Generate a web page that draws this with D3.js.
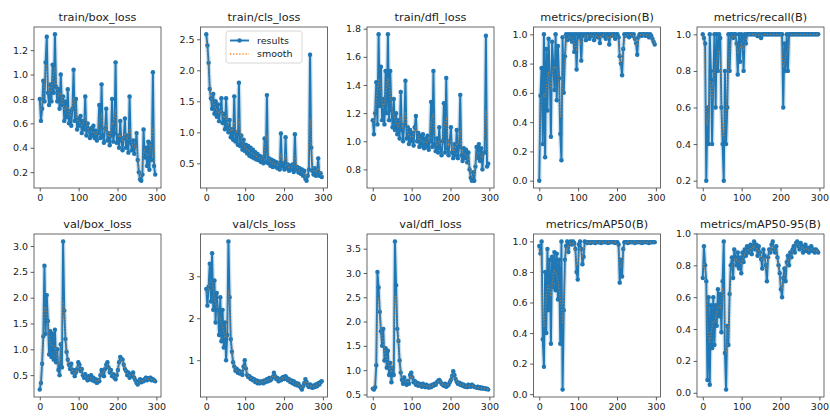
<!DOCTYPE html>
<html><head><meta charset="utf-8">
<script src="https://cdn.jsdelivr.net/npm/d3@7"></script>
<style>body{margin:0;background:#fff}svg{display:block}text{font-family:"DejaVu Sans",sans-serif;fill:#222}</style>
</head><body><svg id="c" width="830" height="417"></svg>
<script>
const titles = ["train/box_loss","train/cls_loss","train/dfl_loss","metrics/precision(B)","metrics/recall(B)",
                "val/box_loss","val/cls_loss","val/dfl_loss","metrics/mAP50(B)","metrics/mAP50-95(B)"];
const epochStep = 3; // one sample every 3 epochs, starting at epoch 0
const xTicks = [0,100,200,300];

const trainBoxLoss = [0.80,0.62,0.72,0.95,0.78,1.10,1.31,0.85,0.75,0.92,0.78,1.08,0.85,1.33,0.90,0.78,0.88,0.72,1.00,0.75,
 0.82,0.62,0.78,0.65,0.88,0.60,0.70,0.58,0.72,1.04,0.62,0.80,0.55,0.64,0.58,0.66,0.52,0.62,0.55,0.82,
 0.50,0.60,0.54,0.48,0.56,0.50,0.58,0.48,0.54,0.46,0.52,0.75,0.48,0.92,0.50,0.44,0.56,0.72,0.46,0.52,
 0.42,0.50,0.80,0.45,0.52,1.10,0.44,0.50,0.40,0.62,0.46,0.38,0.48,0.64,0.40,0.50,0.36,0.82,0.44,0.38,
 0.46,0.35,0.42,0.52,0.30,0.20,0.14,0.13,0.18,0.55,0.32,0.40,0.25,0.45,0.22,0.44,0.30,1.02,0.25,0.18];
const trainClsLoss = [2.58,2.40,2.12,1.70,1.55,1.38,1.62,1.30,1.50,1.25,1.45,1.18,1.35,1.55,1.15,1.30,1.05,1.55,1.10,1.00,
 1.20,0.92,1.05,0.88,1.58,0.85,1.00,0.80,1.80,0.78,0.95,0.72,0.88,0.70,0.80,0.66,0.78,0.62,0.75,0.60,
 0.72,0.58,0.68,0.56,0.65,0.55,0.62,0.52,0.60,0.50,0.90,0.52,1.60,0.50,0.58,0.46,0.56,0.44,0.54,0.45,
 0.52,0.42,0.50,0.40,0.98,0.45,0.50,0.40,0.92,0.42,0.48,0.38,0.46,0.40,0.48,0.36,0.97,0.40,0.44,0.35,
 0.42,0.33,0.40,0.30,0.38,0.25,0.22,0.30,0.40,2.25,0.75,0.38,0.32,0.42,0.30,0.36,0.58,0.30,0.34,0.28];
const trainDflLoss = [1.15,1.05,1.20,1.42,1.12,1.76,1.25,1.53,1.15,1.30,1.12,1.50,1.20,1.76,1.15,1.50,1.22,1.10,1.30,1.08,
 1.20,1.05,1.15,1.02,1.35,1.08,1.00,1.12,1.43,1.02,1.10,0.98,1.08,1.00,1.06,0.97,1.10,1.18,1.00,1.06,
 0.96,1.04,0.97,1.05,0.95,1.02,0.96,1.04,0.94,1.00,1.28,0.96,1.50,0.98,0.93,1.02,0.92,1.10,0.95,0.90,
 1.00,1.27,0.92,1.45,0.95,0.90,1.00,1.10,0.92,0.88,0.98,0.90,1.08,0.88,0.96,1.33,0.90,0.86,0.95,0.88,
 0.94,0.85,0.92,0.80,0.74,0.72,0.78,0.72,0.82,0.96,0.88,0.98,0.86,0.95,0.80,0.92,0.92,1.75,0.82,0.84];
const precision = [0.00,0.58,0.77,0.25,1.00,0.16,0.90,0.48,0.97,0.72,0.30,0.95,0.80,0.62,1.00,0.55,0.92,0.70,0.32,0.14,
 0.98,0.60,0.85,1.00,0.96,1.00,0.97,1.00,0.95,1.00,0.88,1.00,0.76,1.00,0.98,1.00,0.82,1.00,0.99,1.00,
 0.96,1.00,1.00,0.97,1.00,0.99,1.00,0.96,1.00,1.00,0.98,1.00,0.94,1.00,1.00,0.99,1.00,0.97,1.00,1.00,
 0.93,1.00,0.99,1.00,1.00,0.97,1.00,1.00,0.98,0.85,0.80,0.72,0.90,1.00,0.99,1.00,1.00,0.98,1.00,1.00,
 0.99,1.00,0.97,0.94,0.86,0.98,1.00,1.00,0.99,1.00,1.00,0.99,1.00,1.00,0.98,1.00,0.99,0.97,0.95,0.93];
const recall = [1.00,0.98,0.95,0.20,0.60,0.40,1.00,0.80,0.40,0.75,1.00,0.60,1.00,0.80,1.00,0.98,0.60,0.40,0.20,0.80,
 0.40,0.60,1.00,0.80,1.00,1.00,0.98,1.00,1.00,0.95,0.78,1.00,0.85,1.00,0.98,0.80,1.00,0.95,1.00,1.00,
 1.00,1.00,1.00,1.00,1.00,1.00,1.00,0.99,1.00,1.00,0.98,1.00,1.00,1.00,1.00,1.00,1.00,1.00,1.00,1.00,
 1.00,1.00,1.00,1.00,1.00,1.00,1.00,1.00,1.00,0.60,0.95,0.80,1.00,0.80,1.00,1.00,1.00,1.00,1.00,1.00,
 1.00,1.00,1.00,1.00,1.00,1.00,1.00,1.00,1.00,1.00,1.00,1.00,1.00,1.00,1.00,1.00,1.00,1.00,1.00,1.00];
const valBoxLoss = [0.22,0.35,0.72,1.25,2.62,1.30,2.05,1.55,0.90,1.35,0.85,1.30,0.80,1.38,0.75,1.00,0.60,0.50,1.10,0.65,
 3.09,1.75,1.20,0.95,0.80,0.70,0.62,0.72,0.55,0.60,0.48,0.55,0.62,0.75,0.70,0.58,0.62,0.50,0.45,0.52,
 0.45,0.40,0.48,0.42,0.50,0.40,0.45,0.38,0.42,0.35,0.40,0.38,0.50,0.60,0.55,0.48,0.62,0.70,0.75,0.65,
 0.55,0.60,0.48,0.52,0.45,0.42,0.50,0.60,0.75,0.85,0.82,0.80,0.70,0.62,0.58,0.50,0.55,0.45,0.52,0.48,
 0.55,0.45,0.40,0.35,0.32,0.38,0.42,0.36,0.40,0.38,0.42,0.45,0.40,0.44,0.42,0.45,0.40,0.42,0.40,0.38];
const valClsLoss = [2.70,2.30,2.75,3.30,2.40,3.55,2.20,2.90,1.90,2.60,2.20,1.60,2.50,1.45,2.20,1.30,1.90,1.00,1.60,3.83,
 2.50,1.50,1.20,0.95,0.85,0.75,0.80,0.70,0.75,0.68,0.72,0.65,0.85,1.00,0.80,0.65,0.60,0.62,0.55,0.58,
 0.52,0.55,0.48,0.52,0.45,0.50,0.45,0.48,0.50,0.45,0.52,0.48,0.55,0.50,0.58,0.52,0.55,0.60,0.70,0.62,
 0.55,0.58,0.50,0.55,0.52,0.58,0.60,0.55,0.62,0.58,0.52,0.55,0.48,0.52,0.45,0.50,0.42,0.46,0.40,0.44,
 0.38,0.35,0.30,0.38,0.45,0.55,0.48,0.40,0.36,0.42,0.38,0.34,0.40,0.36,0.42,0.38,0.45,0.42,0.48,0.50];
const valDflLoss = [0.62,0.60,0.65,1.10,3.02,2.70,2.20,1.80,1.50,1.85,1.20,1.45,1.05,1.40,0.90,1.15,0.75,1.05,0.90,3.65,
 2.75,1.85,1.60,1.20,0.95,0.80,0.72,0.85,0.75,0.70,0.78,0.72,0.90,0.95,0.85,0.75,0.78,0.70,0.74,0.68,
 0.72,0.70,0.66,0.72,0.68,0.65,0.70,0.66,0.64,0.68,0.65,0.70,0.68,0.72,0.70,0.75,0.78,0.80,0.76,0.72,
 0.70,0.68,0.72,0.66,0.68,0.70,0.75,0.80,0.88,0.98,0.90,0.82,0.76,0.72,0.74,0.70,0.72,0.68,0.70,0.66,
 0.68,0.65,0.70,0.68,0.66,0.70,0.68,0.66,0.65,0.64,0.66,0.63,0.65,0.62,0.64,0.62,0.63,0.61,0.62,0.60];
const mAP50 = [0.97,0.92,1.00,0.36,0.18,0.80,0.40,0.95,0.55,0.88,0.33,0.90,0.70,0.93,0.68,0.92,0.62,0.88,0.33,1.00,
 0.03,0.55,0.88,0.97,1.00,0.93,0.99,1.00,0.98,1.00,0.99,0.95,0.80,0.75,0.98,1.00,0.95,0.85,0.90,1.00,
 0.995,0.99,0.995,0.995,0.99,0.995,0.995,0.995,0.99,0.995,0.995,0.995,0.995,0.99,0.995,0.995,0.995,0.995,0.995,0.99,
 0.995,0.995,0.995,0.995,0.995,0.99,0.995,0.995,0.98,0.73,0.88,0.77,0.95,0.995,0.995,0.995,0.99,0.995,0.995,0.995,
 0.995,0.995,0.99,0.995,0.995,0.995,0.995,0.995,0.99,0.995,0.995,0.995,0.995,0.995,0.99,0.995,0.995,0.995,0.995,0.995];
const mAP5095 = [0.72,0.92,0.80,0.70,0.08,0.60,0.05,0.55,0.28,0.60,0.30,0.55,0.42,0.65,0.48,0.62,0.38,0.70,0.95,0.25,
 0.02,0.42,0.30,0.62,0.80,0.85,0.72,0.90,0.85,0.80,0.88,0.78,0.85,0.75,0.88,0.82,0.90,0.86,0.92,0.88,
 0.90,0.93,0.87,0.92,0.95,0.90,0.93,0.86,0.92,0.88,0.84,0.78,0.90,0.86,0.80,0.70,0.85,0.90,0.88,0.93,
 0.95,0.90,0.88,0.92,0.85,0.80,0.75,0.65,0.60,0.72,0.78,0.70,0.82,0.86,0.80,0.88,0.85,0.90,0.92,0.88,
 0.94,0.95,0.92,0.90,0.94,0.92,0.88,0.90,0.93,0.89,0.91,0.88,0.90,0.92,0.89,0.90,0.88,0.90,0.89,0.88];

const series = [trainBoxLoss,trainClsLoss,trainDflLoss,precision,recall,valBoxLoss,valClsLoss,valDflLoss,mAP50,mAP5095];
const yTicks = [
 [0.2,0.4,0.6,0.8,1.0,1.2],[0.5,1.0,1.5,2.0,2.5],[0.8,1.0,1.2,1.4,1.6,1.8],[0,0.2,0.4,0.6,0.8,1.0],[0.2,0.4,0.6,0.8,1.0],
 [0.5,1.0,1.5,2.0,2.5,3.0],[1,2,3],[0.5,1.0,1.5,2.0,2.5,3.0,3.5],[0,0.2,0.4,0.6,0.8,1.0],[0,0.2,0.4,0.6,0.8,1.0]];
const yFormats = [".1f",".1f",".1f",".1f",".1f",".1f","d",".1f",".1f",".1f"];
const legendLabels = ["results","smooth"];

// gaussian smoothing (sigma = 3 epochs = 1 sample), reflect boundary
function gaussSmooth(arr, sigma){
  const r = Math.round(4*sigma), w = [];
  for(let k=-r;k<=r;k++) w.push(Math.exp(-0.5*(k/sigma)**2));
  const s = d3.sum(w), n = arr.length;
  return arr.map((_,i)=>{
    let acc=0;
    for(let k=-r;k<=r;k++){
      let j=i+k;
      while(j<0||j>=n){ if(j<0) j=-j-1; if(j>=n) j=2*n-j-1; }
      acc += w[k+r]*arr[j];
    }
    return acc/s;
  });
}

const svg = d3.select("#c");
const colLeft = [34,200.5,367,533.5,697], boxW = 127;
const rowTop = [27,234], rowBottom = [188,397];
const blue = "#1f77b4", orange = "#ff7f0e";

series.forEach((vals,idx)=>{
  const r = Math.floor(idx/5), c = idx%5;
  const x0 = colLeft[c], x1 = x0+boxW, y0 = rowTop[r], y1 = rowBottom[r];
  const xsMax = (vals.length-1)*epochStep;
  const xs = d3.scaleLinear().domain([-0.05*xsMax, xsMax*1.05]).range([x0,x1]);
  const [mn,mx] = d3.extent(vals), pad = (mx-mn)*0.05;
  const ys = d3.scaleLinear().domain([mn-pad, mx+pad]).range([y1,y0]);
  const g = svg.append("g");
  const cid = "clip"+idx;
  svg.append("clipPath").attr("id",cid).append("rect").attr("x",x0).attr("y",y0).attr("width",boxW).attr("height",y1-y0);
  const pts = vals.map((v,i)=>[i*epochStep, v]);
  const line = d3.line().x(d=>xs(d[0])).y(d=>ys(d[1]));
  const plot = g.append("g").attr("clip-path",`url(#${cid})`);
  plot.append("path").attr("d",line(pts)).attr("fill","none").attr("stroke",blue).attr("stroke-opacity",0.22).attr("stroke-width",4.5).attr("stroke-linejoin","round");
  plot.append("path").attr("d",line(pts)).attr("fill","none").attr("stroke",blue).attr("stroke-width",1.9).attr("stroke-linejoin","round");
  plot.selectAll("circle").data(pts).join("circle").attr("cx",d=>xs(d[0])).attr("cy",d=>ys(d[1])).attr("r",2.2).attr("fill",blue);
  const sm = gaussSmooth(vals,1).map((v,i)=>[i*epochStep,v]);
  plot.append("path").attr("d",line(sm)).attr("fill","none").attr("stroke",orange).attr("stroke-width",1.3).attr("stroke-dasharray","1.2,1.9").attr("opacity",0.55);
  // axes
  const ax = d3.axisBottom(xs).tickValues(xTicks).tickSize(3.4).tickPadding(2.5).tickFormat(d3.format("d"));
  const gx = g.append("g").attr("transform",`translate(0,${y1})`).call(ax);
  const ay = d3.axisLeft(ys).tickValues(yTicks[idx]).tickSize(3.4).tickPadding(2.5).tickFormat(d3.format(yFormats[idx]));
  const gy = g.append("g").attr("transform",`translate(${x0},0)`).call(ay);
  [gx,gy].forEach(a=>{
    a.select(".domain").remove();
    a.selectAll(".tick line").attr("stroke","#333").attr("stroke-width",0.8);
    a.selectAll(".tick text").attr("font-size",9.5).attr("fill","#333").style("font-family","DejaVu Sans");
  });
  g.append("rect").attr("x",x0).attr("y",y0).attr("width",boxW).attr("height",y1-y0).attr("fill","none").attr("stroke","#444").attr("stroke-width",0.8);
  g.append("text").attr("x",(x0+x1)/2).attr("y",y0-6).attr("text-anchor","middle").attr("font-size",11.3).attr("fill","#333").text(titles[idx]);

  if(idx===1){
    const lw = 76, lh = 32, lx = (x0+x1)/2 - lw/2, ly = y0+4;
    const lg = g.append("g");
    lg.append("rect").attr("x",lx).attr("y",ly).attr("width",lw).attr("height",lh).attr("rx",2.5)
      .attr("fill","#fff").attr("fill-opacity",0.8).attr("stroke","#ccc").attr("stroke-width",0.8);
    const rows = [ly+9.5, ly+23];
    lg.append("line").attr("x1",lx+4).attr("x2",lx+23).attr("y1",rows[0]).attr("y2",rows[0]).attr("stroke",blue).attr("stroke-width",1.9);
    lg.append("circle").attr("cx",lx+13.5).attr("cy",rows[0]).attr("r",2.2).attr("fill",blue);
    lg.append("line").attr("x1",lx+4).attr("x2",lx+23).attr("y1",rows[1]).attr("y2",rows[1]).attr("stroke",orange).attr("stroke-width",1.5).attr("stroke-dasharray","1.2,1.9");
    legendLabels.forEach((t,i)=>{
      lg.append("text").attr("x",lx+31).attr("y",rows[i]).attr("dy","0.35em").attr("font-size",9.5).attr("fill","#333").text(t);
    });
  }
});
</script></body></html>
